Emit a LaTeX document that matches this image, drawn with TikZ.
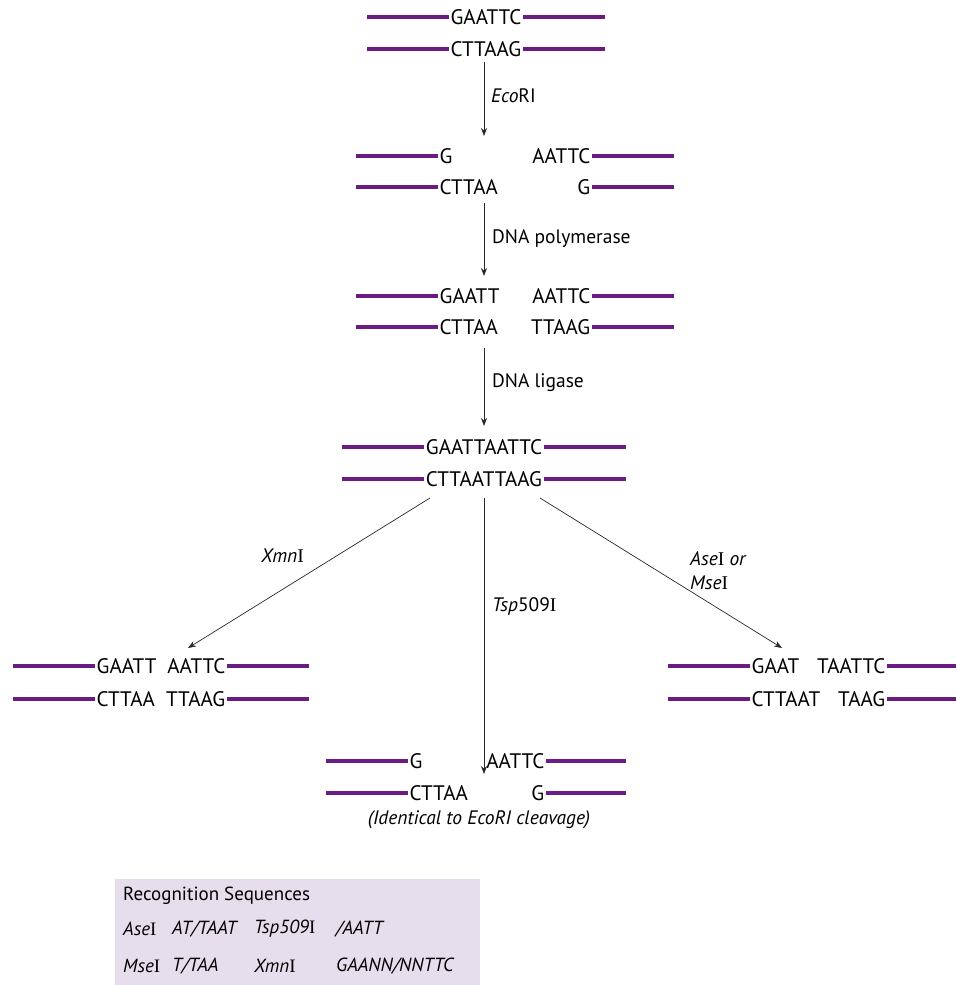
\documentclass[tikz,border=0pt]{standalone}
\usepackage{fontspec}
\setmainfont{PT Sans}
\newfontfamily\romanI{Liberation Serif}
\usetikzlibrary{arrows.meta}
\definecolor{dnapurple}{RGB}{106,28,130}
\definecolor{boxfill}{RGB}{230,222,236}
\definecolor{arrowgray}{RGB}{40,40,40}
% upright serif "I" used in enzyme names
\newcommand{\rI}{{\romanI I}}
% strand helpers: name, x, y, sequence, bar length
\newcommand{\leftstrand}[5]{%
  \node[seq,anchor=west] (#1) at (#2,#3) {#4};
  \draw[strand] (#1.west) -- ++(-#5,0);}
\newcommand{\rightstrand}[5]{%
  \node[seq,anchor=east] (#1) at (#2,#3) {#4};
  \draw[strand] (#1.east) -- ++(#5,0);}
\newcommand{\bothstrand}[4]{%
  \node[seq] (#1) at (#2,#3) {#4};
  \draw[strand] (#1.west) -- ++(-82,0);
  \draw[strand] (#1.east) -- ++(82,0);}
\begin{document}
\begin{tikzpicture}[x=1pt,y=-1pt,
  seq/.style={font=\fontsize{21}{24}\selectfont, inner sep=1.5pt, text height=15.2pt, text depth=0pt},
  strand/.style={dnapurple, line width=3.5pt},
  lbl/.style={font=\fontsize{19.5}{24}\selectfont, anchor=west, inner sep=0pt},
  rxn/.style={-{Stealth[length=8pt,width=6pt]}, line width=0.7pt, arrowgray}]
\useasboundingbox (0,0) rectangle (956,985);

% intact EcoRI site
\bothstrand{topA}{486}{17}{GAATTC}
\bothstrand{topB}{486}{49}{CTTAAG}

% EcoRI sticky ends
\leftstrand{cutAl}{438}{156}{G}{82}
\leftstrand{cutBl}{438}{187}{CTTAA}{82}
\rightstrand{cutAr}{592}{156}{AATTC}{82}
\rightstrand{cutBr}{592}{187}{G}{82}

% filled-in blunt ends
\leftstrand{fillAl}{438}{296}{GAATT}{82}
\leftstrand{fillBl}{438}{327}{CTTAA}{82}
\rightstrand{fillAr}{592}{296}{AATTC}{82}
\rightstrand{fillBr}{592}{327}{TTAAG}{82}

% ligated product
\bothstrand{ligA}{484}{447}{GAATTAATTC}
\bothstrand{ligB}{484}{479}{CTTAATTAAG}

% XmnI products
\leftstrand{xA}{95}{666}{GAATT}{82}
\leftstrand{xB}{95}{699}{CTTAA}{82}
\rightstrand{xC}{227}{666}{AATTC}{82}
\rightstrand{xD}{227}{699}{TTAAG}{82}

% AseI / MseI products
\leftstrand{aA}{750}{666}{GAAT}{82}
\leftstrand{aB}{750}{699}{CTTAAT}{82}
\rightstrand{aC}{887}{666}{TAATTC}{69}
\rightstrand{aD}{887}{699}{TAAG}{69}

% Tsp509I products
\leftstrand{tA}{408}{761}{G}{82}
\leftstrand{tB}{408}{793}{CTTAA}{82}
\rightstrand{tC}{546}{761}{AATTC}{80}
\rightstrand{tD}{546}{793}{G}{80}

% arrow end points
\coordinate (s1) at (484,62);   \coordinate (e1) at (484,136);
\coordinate (s2) at (484,203);  \coordinate (e2) at (484,276);
\coordinate (s3) at (484,348);  \coordinate (e3) at (484,426);
\coordinate (sx) at (430,498);  \coordinate (ex) at (188,648);
\coordinate (st) at (484,498);  \coordinate (et) at (484,774);
\coordinate (sa) at (540,498);  \coordinate (ea) at (782,648);

\draw[rxn] (s1) -- (e1);
\draw[rxn] (s2) -- (e2);
\draw[rxn] (s3) -- (e3);
\draw[rxn] (sx) -- (ex);
\draw[rxn] (st) -- (et);
\draw[rxn] (sa) -- (ea);

% enzyme labels
\node[lbl] (lEco) at (491,96) {\textit{Eco}RI};
\node[lbl] (lPol) at (492,239) {DNA polymerase};
\node[lbl] (lLig) at (492,383) {DNA ligase};
\node[lbl] (lXmn) at (261,556) {\textit{Xmn}\rI};
\node[lbl] (lTsp) at (492,607) {\textit{Tsp}509\rI};
\node[lbl,align=left] (lAse) at (690,571) {\textit{Ase}\rI\ \textit{or}\\\textit{Mse}\rI};

\node[font=\fontsize{19.5}{24}\selectfont\itshape] (cap) at (479,820) {(Identical to EcoRI cleavage)};

% recognition sequence table
\fill[boxfill] (115,879) rectangle (480,985);
\begin{scope}[every node/.style={font=\fontsize{19}{22}\selectfont, anchor=west, inner sep=0pt}]
\node (rTitle) at (123,896) {Recognition Sequences};
\node (rAse) at (123,929) {\textit{Ase}\rI};
\node (rAseS) at (172,929) {\textit{AT/TAAT}};
\node (rTsp) at (254,929) {\textit{Tsp509}\rI};
\node (rTspS) at (336,929) {\textit{/AATT}};
\node (rMse) at (123,966) {\textit{Mse}\rI};
\node (rMseS) at (172,966) {\textit{T/TAA}};
\node (rXmn) at (254,966) {\textit{Xmn}\rI};
\node (rXmnS) at (336,966) {\textit{GAANN/NNTTC}};
\end{scope}
\end{tikzpicture}
\end{document}
